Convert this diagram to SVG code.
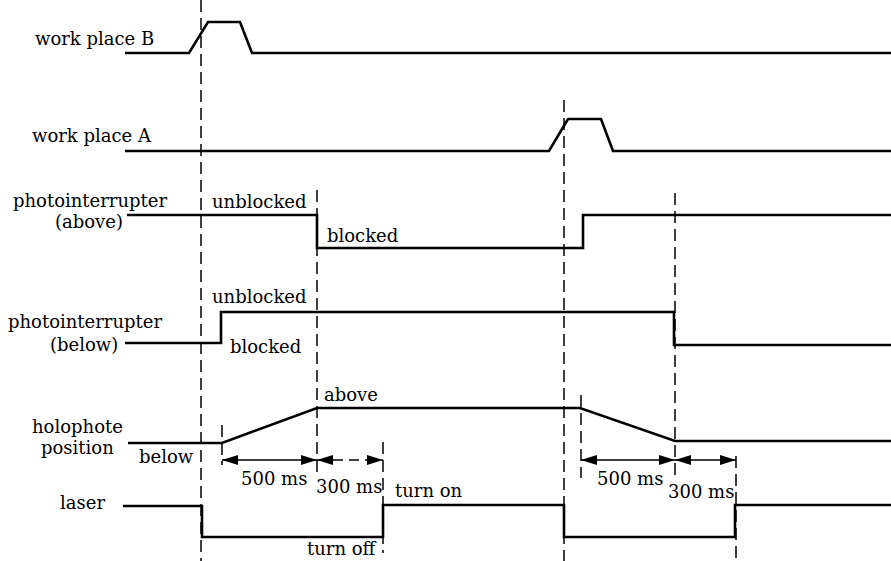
<svg xmlns="http://www.w3.org/2000/svg" width="891" height="561" viewBox="0 0 891 561">
<style>
.sig{fill:none;stroke:#000;stroke-width:2.6;stroke-linejoin:miter}
.dash{fill:none;stroke:#000;stroke-width:1.5;stroke-dasharray:12 6}
.dim{fill:none;stroke:#000;stroke-width:1.5}
text{font-family:"DejaVu Serif","Liberation Serif",serif;font-size:18px;fill:#000}
</style>
<defs>
<marker id="ah" viewBox="0 0 16 10" refX="16" refY="5" markerWidth="16" markerHeight="10" markerUnits="userSpaceOnUse" orient="auto-start-reverse">
<path d="M0,0 L16,5 L0,10 Z" fill="#000"/>
</marker>
</defs>
<rect width="891" height="561" fill="#fff"/>
<g id="connectors">
<line class="dash" x1="201" y1="0" x2="201" y2="561"/>
<line class="dash" x1="564" y1="100" x2="564" y2="561"/>
<line class="dash" x1="317" y1="190" x2="317" y2="476"/>
<line class="dash" x1="675" y1="193" x2="675" y2="478"/>
<line class="dash" x1="383" y1="442" x2="383" y2="553"/>
<line class="dash" x1="736" y1="456" x2="736" y2="561"/>
<line class="dash" x1="222" y1="425" x2="222" y2="465"/>
<line class="dash" x1="581" y1="395" x2="581" y2="478"/>
<line class="dim" x1="222" y1="460" x2="317" y2="460" marker-start="url(#ah)" marker-end="url(#ah)"/>
<line class="dim" x1="317" y1="460" x2="383" y2="460" stroke-dasharray="10 6" marker-start="url(#ah)" marker-end="url(#ah)"/>
<line class="dim" x1="581" y1="460" x2="675" y2="460" marker-start="url(#ah)" marker-end="url(#ah)"/>
<line class="dim" x1="675" y1="460" x2="736" y2="460" marker-start="url(#ah)" marker-end="url(#ah)"/>
</g>
<g id="workplaceB">
<text x="35" y="45">work place B</text>
<polyline class="sig" points="125,53 189,53 208,22 240,22 252,53 891,53"/>
</g>
<g id="workplaceA">
<text x="32" y="142">work place A</text>
<polyline class="sig" points="125,151 549,151 568,119 601,119 613,151 891,151"/>
</g>
<g id="pi_above">
<text x="13" y="207">photointerrupter</text>
<text x="55" y="228">(above)</text>
<text x="212" y="208">unblocked</text>
<text x="327" y="242">blocked</text>
<polyline class="sig" points="127,215 317,215 317,248 583,248 583,215 891,215"/>
</g>
<g id="pi_below">
<text x="212" y="303">unblocked</text>
<text x="8" y="328">photointerrupter</text>
<text x="50" y="351">(below)</text>
<text x="230" y="353">blocked</text>
<polyline class="sig" points="125,343 221,343 221,312 674,312 674,345 891,345"/>
</g>
<g id="holophote">
<text x="32" y="433">holophote</text>
<text x="41" y="454">position</text>
<text x="139" y="463">below</text>
<text x="324" y="401">above</text>
<polyline class="sig" points="128,443 222,443 317,408 580,408 675,441 891,441"/>
<text x="241" y="485">500 ms</text>
<text x="316" y="493">300 ms</text>
<text x="597" y="485">500 ms</text>
<text x="668" y="498">300 ms</text>
</g>
<g id="laser">
<text x="60" y="509">laser</text>
<text x="395" y="497">turn on</text>
<text x="307" y="555">turn off</text>
<polyline class="sig" points="123,506 202,506 202,537 383,537 383,505 564,505 564,537 735,537 735,505 891,505"/>
</g>
</svg>
